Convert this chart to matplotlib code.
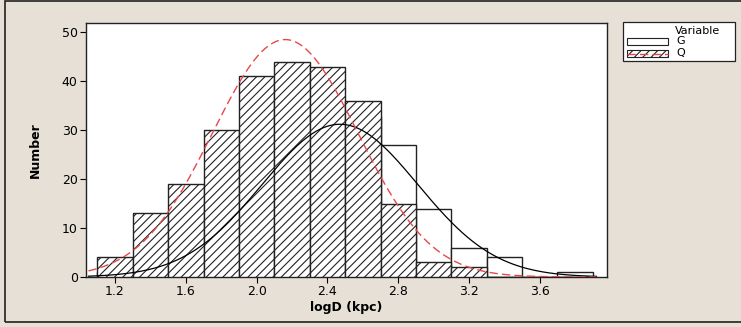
import numpy as np
import matplotlib
matplotlib.use("Agg")
import matplotlib.pyplot as plt
from matplotlib.patches import Rectangle
from matplotlib.lines import Line2D

# bin centres of the overlaid histogram (width 0.2)
bin_centers = [1.2, 1.4, 1.6, 1.8, 2.0, 2.2, 2.4, 2.6, 2.8, 3.0, 3.2, 3.4, 3.6, 3.8]
bin_width = 0.2

# counts per bin
g_counts = [1, 2, 5, 9, 16, 24, 30, 33, 27, 14, 6, 4, 0, 1]
q_counts = [4, 13, 19, 30, 41, 44, 43, 36, 15, 3, 2, 0, 0, 0]

x_ticks = [1.2, 1.6, 2.0, 2.4, 2.8, 3.2, 3.6]
y_ticks = [0, 10, 20, 30, 40, 50]

bg = "#e6e0d7"
red = "#e8474a"
edge = "#222222"
W, H = 741, 327


def normal_fit(counts):
    """Normal curve fitted to the binned counts, scaled to the histogram."""
    c = np.asarray(counts, dtype=float)
    x = np.asarray(bin_centers)
    n = c.sum()
    mu = np.average(x, weights=c)
    sd = np.sqrt(np.sum(c * (x - mu) ** 2) / (n - 1))
    xs = np.linspace(1.05, 3.92, 300)
    ys = n * bin_width / (sd * np.sqrt(2 * np.pi)) * np.exp(-(xs - mu) ** 2 / (2 * sd ** 2))
    return xs, ys


def fx(px):
    return px / W


def fy(py):
    return 1 - py / H


plt.rcParams["hatch.linewidth"] = 0.8

fig = plt.figure(figsize=(W / 100, H / 100), dpi=100, facecolor=bg)
ax = fig.add_axes([fx(86), fy(277), 520.7 / W, 254.3 / H])
ax.set_facecolor("white")

# G drawn first, Q (hatched) on top
ax.bar(bin_centers, g_counts, width=bin_width, color="white",
       edgecolor=edge, linewidth=1.0, zorder=2)
ax.bar(bin_centers, q_counts, width=bin_width, color="white",
       edgecolor=edge, linewidth=1.0, hatch="////", zorder=3)

xs, ys = normal_fit(g_counts)
ax.plot(xs, ys, color="black", linewidth=0.9, zorder=4)
xs, ys = normal_fit(q_counts)
ax.plot(xs, ys, color=red, linewidth=1.0, dashes=(6, 3), zorder=5)

ax.set_xlim(1.036, 3.978)
ax.set_ylim(0, 52)
ax.set_xticks(x_ticks)
ax.set_xticklabels([f"{t:.1f}" for t in x_ticks])
ax.set_yticks(y_ticks)
ax.tick_params(direction="out", length=4, width=0.8, labelsize=9, pad=2)
for s in ax.spines.values():
    s.set_linewidth(1.0)
    s.set_color(edge)

ax.set_xlabel("logD (kpc)", fontsize=9, fontweight="bold", labelpad=2)
ax.set_ylabel("Number", fontsize=9, fontweight="bold",
              family=["Liberation Sans Narrow", "DejaVu Sans"], labelpad=14)

# legend box, drawn in figure pixels
fig.patches.append(Rectangle((fx(623), fy(61)), fx(735) - fx(623), fy(22) - fy(61),
                             transform=fig.transFigure, facecolor="white",
                             edgecolor=edge, linewidth=0.9))
fig.text(fx(720), fy(31), "Variable", ha="right", va="center", fontsize=8)
fig.patches.append(Rectangle((fx(627), fy(45)), fx(668) - fx(627), fy(38) - fy(45),
                             transform=fig.transFigure, facecolor="white",
                             edgecolor=edge, linewidth=0.8))
fig.text(fx(676), fy(41), "G", ha="left", va="center", fontsize=8)
fig.patches.append(Rectangle((fx(627), fy(57)), fx(668) - fx(627), fy(50) - fy(57),
                             transform=fig.transFigure, facecolor="white",
                             edgecolor=edge, linewidth=0.8, hatch="////"))
fig.lines.append(Line2D([fx(627), fx(668)], [fy(53.5), fy(53.5)],
                        transform=fig.transFigure, color=red, linewidth=1.0,
                        dashes=(6, 3)))
fig.text(fx(676), fy(53), "Q", ha="left", va="center", fontsize=8)

# outer frame
fig.patches.append(Rectangle((fx(5), fy(322)), 1.0, fy(1) - fy(322),
                             transform=fig.transFigure, fill=False,
                             edgecolor=edge, linewidth=1.2))

fig.savefig("out.png", dpi=100, facecolor=bg)
